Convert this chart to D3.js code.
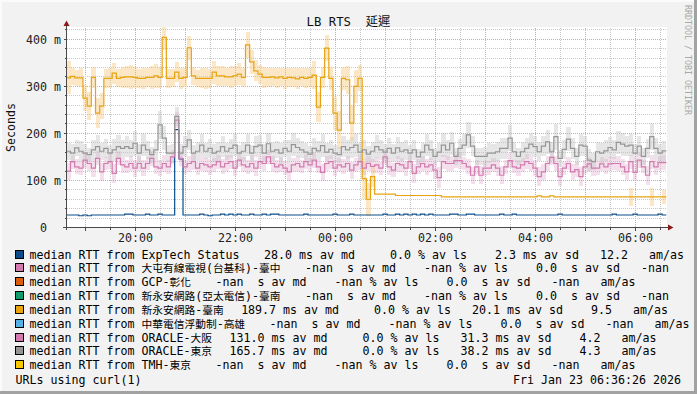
<!DOCTYPE html>
<html><head><meta charset="utf-8">
<script src="https://cdn.jsdelivr.net/npm/d3@7"></script>
<style>
html,body{margin:0;padding:0;background:#f2f2f2;overflow:hidden}
svg text{white-space:pre}
</style></head>
<body><svg id="chart" width="697" height="394" xmlns="http://www.w3.org/2000/svg"></svg>
<script>
// ---------------- data ----------------
const title = "LB RTS  延遲";
const yAxisTitle = "Seconds";
const credit = "RRDTOOL / TOBI OETIKER";
const footerLeft = "URLs using curl(1)";
const footerRight = "Fri Jan 23 06:36:26 2026";

const yTickValues = [0, 100, 200, 300, 400];          // ms
const yTickLabels = ["0  ", "100 m", "200 m", "300 m", "400 m"];
const xTickLabels = ["20:00", "22:00", "00:00", "02:00", "04:00", "06:00"];

const targets = ["ExpTech Status", "大屯有線電視(台基科)-臺中", "GCP-彰化", "新永安網路(亞太電信)-臺南",
  "新永安網路-臺南", "中華電信浮動制-高雄", "ORACLE-大阪", "ORACLE-東京", "TMH-東京"];
const colors = ["#0c4c8a", "#d27aae", "#d95f0e", "#119c6c", "#e8a30e", "#56b0e6", "#d27aae", "#959595", "#f7c800"];
const avMedian = [28.0, NaN, NaN, NaN, 189.7, NaN, 131.0, 165.7, NaN];
const avLoss   = [0.0, NaN, NaN, NaN, 0.0, NaN, 0.0, 0.0, NaN];
const avSdev   = [2.3, 0.0, 0.0, 0.0, 20.1, 0.0, 31.3, 38.2, 0.0];
const amAs     = [12.2, NaN, NaN, NaN, 9.5, NaN, 4.2, 4.3, NaN];

// 5-minute medians (ms), first step starts 18:37
const expTech = [
26.6,26.6,26.6,25.0,26.6,25.0,26.6,26.6,26.6,26.6,
26.6,26.6,26.6,26.6,28.5,28.5,26.6,26.6,26.6,28.5,
26.6,26.6,28.5,26.6,26.6,26.6,208,146,26.6,26.6,
26.6,26.6,28.5,26.6,25.0,26.6,26.6,28.5,26.6,28.5,
26.6,28.5,26.6,26.6,28.5,26.6,26.6,28.5,26.6,28.5,
28.5,26.6,26.6,26.6,26.6,26.6,26.6,28.5,26.6,26.6,
26.6,26.6,26.6,26.6,28.5,26.6,26.6,26.6,28.5,26.6,
26.6,26.6,26.6,26.6,26.6,26.6,28.5,26.6,26.6,28.5,
26.6,28.5,26.6,28.5,26.6,28.5,26.6,28.5,26.6,26.6,
26.6,26.6,28.5,28.5,26.6,26.6,28.5,28.5,26.6,26.6,
26.6,26.6,26.6,26.6,28.5,26.6,26.6,28.5,26.6,26.6,
26.6,26.6,26.6,26.6,26.6,26.6,26.6,26.6,28.5,26.6,
26.6,26.6,26.6,26.6,26.6,26.6,26.6,26.6,26.6,26.6,
26.6,28.5,26.6,26.6,26.6,26.6,28.5,26.6,26.6,26.6,
26.6,26.6,28.5,26.6];
const tainan = [
318,321,318,318,275,258,319,243,258,317,
317,328,317,319,320,320,319,317,317,319,
319,322,319,404,317,317,330,317,319,382,
322,317,317,317,317,330,322,322,320,320,
322,326,319,388,352,333,326,319,319,320,
318,320,317,319,318,316,319,317,319,324,
256,319,381,317,243,207,317,314,222,300,
317,104,60,108,71,71,71,71,71,68,
68,68,68,68,68,68,68,68,68,68,
65,65,65,65,65,65,65,65,65,65,
65,65,65,65,65,65,65,65,65,65,
65,65,65,67,65,65,67,65,65,65,
65,65,65,65,65,65,65,65,65,65,
65,65,65,65,65,65,65,65,65,65,
65,65,65,65];
const tainanSd = [
70,38,35,40,55,60,45,65,55,40,
42,45,38,44,48,50,46,40,44,42,
48,50,45,55,40,38,42,44,40,50,
38,36,42,44,40,48,42,44,40,46,
44,48,42,55,50,45,40,44,42,40,
44,38,46,42,40,44,38,42,40,60,
65,44,55,48,70,80,50,60,75,70,
55,85,70,45,0,0,0,0,0,0,
0,0,0,0,0,0,0,0,0,0,
0,0,0,0,0,0,0,0,0,0,
0,0,0,0,0,0,0,0,0,0,
0,0,0,0,0,0,0,0,0,0,
0,0,0,0,0,0,0,0,0,0,
0,0,0,0,0,39,0,0,0,0,
40,0,0,30];
const osaka = [
120,140,129,126,143,136,126,147,118,136,
140,115,147,133,129,136,126,136,126,136,
147,129,126,136,129,150,228,147,129,136,
140,126,136,133,129,133,140,129,136,140,
126,143,133,129,136,126,140,136,150,136,
129,133,126,118,133,136,129,140,133,143,
129,117,136,140,126,133,129,136,122,133,
140,126,136,130,133,126,150,129,122,136,
133,126,140,115,129,136,129,133,122,106,
140,136,136,142,142,136,129,111,129,111,
126,126,133,126,111,129,142,129,126,133,
140,136,126,108,118,136,149,136,108,126,
136,118,123,108,129,135,126,126,135,129,
135,136,136,129,118,140,117,143,129,111,
140,129,138,138];
const osakaSd = [
36,30,32,28,34,30,36,30,40,28,
32,42,30,34,28,32,36,30,34,28,
32,30,34,38,30,28,34,32,30,34,
36,28,32,30,34,28,30,32,36,30,
34,28,32,30,36,34,30,32,30,34,
28,32,30,38,30,34,28,32,30,34,
28,36,32,30,34,28,32,30,36,30,
34,28,32,30,34,28,32,36,30,34,
28,32,30,40,32,30,34,28,36,44,
30,32,32,30,34,28,32,36,30,38,
32,30,28,34,38,30,32,28,34,30,
32,30,34,40,36,30,34,32,38,30,
28,36,32,40,30,28,34,30,28,32,
30,28,30,34,36,30,38,32,28,40,
30,34,30,32];
const tokyo = [
162,158,169,162,158,155,165,172,162,168,
158,165,172,168,172,168,179,158,175,165,
155,165,218,190,158,158,236,158,172,186,
158,162,175,162,168,158,162,172,162,168,
175,158,162,175,158,172,175,158,178,162,
165,158,168,162,176,170,165,160,156,168,
163,174,160,166,158,155,172,165,170,175,
160,165,156,162,172,165,160,168,158,169,
162,165,158,165,150,160,175,165,151,160,
175,165,179,151,168,175,197,173,151,151,
151,158,158,161,168,168,190,161,151,161,
168,177,172,161,173,182,161,193,147,166,
188,168,151,175,173,143,140,161,158,163,
170,165,181,177,173,175,158,173,151,168,
193,168,158,163];
const tokyoSd = [
36,40,34,44,38,30,42,48,36,40,
34,46,50,38,44,36,52,40,46,38,
34,42,60,50,36,40,40,38,46,44,
36,40,48,34,42,38,40,46,36,42,
48,34,40,46,36,44,42,38,46,40,
36,44,38,50,48,42,36,40,34,46,
40,50,38,42,36,34,46,40,44,50,
38,42,36,40,48,42,36,44,38,46,
40,42,36,44,34,40,48,42,34,40,
50,44,48,36,42,46,56,44,36,38,
40,42,38,40,44,46,54,40,36,42,
44,48,46,40,44,50,40,56,36,42,
52,44,38,46,44,48,36,40,42,44,
46,40,50,48,44,46,40,44,38,42,
58,44,40,42];

// ---------------- chart ----------------
const W = 697, H = 394;
const svg = d3.select("#chart");
const MONO = "'DejaVu Sans Mono', 'Liberation Mono', monospace";
const CJK = "'Noto Sans CJK TC', 'Noto Sans CJK JP', sans-serif";
const FS = 11.63, CJK_FS = 10.74, CHAR_W = 7.0;
const cjkRe = /[\u2E80-\u9FFF\uF900-\uFAFF\u3000-\u303F\uFF00-\uFFEF]/;

function runs(str) {
  const out = []; let cur = "", curC = null;
  for (const ch of str) {
    const c = cjkRe.test(ch);
    if (curC === null || c === curC) { cur += ch; curC = c; }
    else { out.push([cur, curC]); cur = ch; curC = c; }
  }
  if (cur) out.push([cur, curC]);
  return out;
}
function mixedText(sel, str, fs, cfs) {
  runs(str).forEach(([s, c]) => {
    sel.append("tspan").attr("font-family", c ? CJK : MONO).attr("font-size", c ? cfs : fs).text(s);
  });
  return sel;
}

svg.append("rect").attr("width", W).attr("height", H).attr("fill", "#f2f2f2");

const t0 = new Date(2026, 0, 22, 18, 37, 12), t1 = new Date(2026, 0, 23, 6, 37, 12);
const dataStart = new Date(2026, 0, 22, 18, 37, 0);
const stepMinutes = 5;
const x = d3.scaleTime().domain([t0, t1]).range([66.5, 666.5]);
const y = d3.scaleLinear().domain([0, 425]).range([227.5, 27.5]);
const crisp = v => Math.round(v - 0.5) + 0.5;

// plot canvas
svg.append("rect").attr("x", 67).attr("y", 27).attr("width", 600).attr("height", 201).attr("fill", "#ffffff");

// grid
const grid = svg.append("g").attr("shape-rendering", "crispEdges").attr("stroke-width", 1).attr("stroke-dasharray", "1,1");
const halfHours = d3.timeMinute.every(30).range(t0, t1);
grid.selectAll("line.v").data(halfHours).join("line")
  .attr("x1", d => crisp(x(d))).attr("x2", d => crisp(x(d)))
  .attr("y1", 27.5).attr("y2", 227.5)
  .attr("stroke", d => d.getMinutes() === 0 ? "#ee9a9a" : "#c8c8c8");
grid.selectAll("line.h").data(d3.range(20, 425, 20)).join("line")
  .attr("x1", 67).attr("x2", 666.5)
  .attr("y1", d => crisp(y(d))).attr("y2", d => crisp(y(d)))
  .attr("stroke", d => d % 100 === 0 ? "#ee9a9a" : "#c8c8c8");

// data
svg.append("defs").append("clipPath").attr("id", "pc")
  .append("rect").attr("x", 67).attr("y", 27).attr("width", 600).attr("height", 201);
const dataG = svg.append("g").attr("clip-path", "url(#pc)");
const times = d3.range(tainan.length + 1).map(i => d3.timeMinute.offset(dataStart, i * stepMinutes));

function band(values, sd, fill, op) {
  const g = dataG.append("g").attr("opacity", op);
  g.selectAll("rect").data(values.map((v, i) => ({ i, v, s: sd[i] })).filter(d => d.s > 0)).join("rect")
    .attr("shape-rendering", "crispEdges")
    .attr("x", d => x(times[d.i])).attr("width", d => x(times[d.i + 1]) - x(times[d.i]))
    .attr("y", d => y(d.v + d.s / 2)).attr("height", d => y(d.v - d.s / 2) - y(d.v + d.s / 2))
    .attr("fill", fill);
}
band(osaka, osakaSd, "#dca2c6", 0.32);
band(tokyo, tokyoSd, "#c4c4c4", 0.42);
band(tainan, tainanSd, "#f6c878", 0.42);

const line = d3.line().x(d => x(d.t)).y(d => y(d.v)).curve(d3.curveStepAfter);
function series(values, color) {
  const pts = values.map((v, i) => ({ t: times[i], v }));
  pts.push({ t: times[values.length], v: values[values.length - 1] });
  dataG.append("path").datum(pts).attr("d", line).attr("fill", "none")
    .attr("stroke", color).attr("stroke-width", 1.2).attr("stroke-linejoin", "miter");
}
series(expTech, colors[0]);
series(tainan, colors[4]);
series(osaka, colors[6]);
series(tokyo, colors[7]);

// axes
const axisG = svg.append("g").attr("shape-rendering", "crispEdges");
axisG.append("line").attr("x1", 66.5).attr("x2", 66.5).attr("y1", 230).attr("y2", 25).attr("stroke", "#4a4a4a");
axisG.append("line").attr("x1", 63).attr("x2", 669).attr("y1", 227.5).attr("y2", 227.5).attr("stroke", "#4a4a4a");
axisG.selectAll("line.yt").data(d3.range(20, 425, 20)).join("line")
  .attr("x1", d => d % 100 === 0 ? 63.5 : 64.5).attr("x2", 66.5)
  .attr("y1", d => crisp(y(d))).attr("y2", d => crisp(y(d))).attr("stroke", "#4a4a4a");
axisG.selectAll("line.xt").data(halfHours).join("line")
  .attr("x1", d => crisp(x(d))).attr("x2", d => crisp(x(d)))
  .attr("y1", 227.5).attr("y2", d => d.getMinutes() === 0 ? 231 : 230).attr("stroke", "#4a4a4a");
svg.append("path").attr("d", "M63.5,26L69.5,26L66.5,20.5Z").attr("fill", "#8b1a1a");
svg.append("path").attr("d", "M668,224.5L668,230.5L673.5,227.5Z").attr("fill", "#8b1a1a");

// tick labels
svg.append("g").selectAll("text").data(yTickValues).join("text")
  .attr("x", 61).attr("y", d => crisp(y(d)) + 4)
  .attr("text-anchor", "end").attr("font-family", MONO).attr("font-size", FS).attr("fill", "#222")
  .text((d, i) => yTickLabels[i]);
const labelTimes = d3.timeHour.every(2).range(t0, t1);
svg.append("g").selectAll("text").data(labelTimes).join("text")
  .attr("x", d => x(d)).attr("y", 241.5)
  .attr("text-anchor", "middle").attr("font-family", MONO).attr("font-size", FS).attr("fill", "#222")
  .text((d, i) => xTickLabels[i]);

// title, y title, credit
const tt = svg.append("text").attr("x", 348.5).attr("y", 26).attr("text-anchor", "middle").attr("fill", "#111");
mixedText(tt, title, 12.3, 12.3);
svg.append("text").attr("transform", "translate(15,127.5) rotate(-90)").attr("text-anchor", "middle")
  .attr("font-family", MONO).attr("font-size", FS).attr("fill", "#111").text(yAxisTitle);
svg.append("text").attr("transform", "translate(685,5) rotate(90)")
  .attr("font-family", MONO).attr("font-size", 8.3).attr("fill", "#a8a8a8").text(credit);

// legend
const f5 = v => isNaN(v) ? " -nan" : v.toFixed(1).padStart(5);
const pfx = v => (isNaN(v) || v === 0) ? " " : "m";
targets.forEach((name, k) => {
  const b = Math.round(258.6 + k * 13.84);
  svg.append("rect").attr("x", 15.5).attr("y", b - 8.5).attr("width", 8).attr("height", 8)
    .attr("fill", colors[k]).attr("stroke", "#000").attr("stroke-width", 1).attr("shape-rendering", "crispEdges");
  const t = svg.append("text").attr("x", 29.5).attr("y", b).attr("fill", "#000");
  mixedText(t, "median RTT from " + name, FS, CJK_FS);
  const w = t.node().getComputedTextLength();
  let stats = `${f5(avMedian[k])} ${pfx(avMedian[k])}s av md   ${f5(avLoss[k])} % av ls  ${f5(avSdev[k])} ${pfx(avSdev[k])}s av sd  ${f5(amAs[k])}   am/as`;
  // the image is clipped at its right frame: whatever would fall past it is not shown
  const startX = 29.5 + w + 17.5;
  const maxChars = Math.floor((W - 4 - startX) / CHAR_W);
  if (stats.length > maxChars) stats = stats.slice(0, maxChars).replace(/\s+$/, "");
  t.append("tspan").attr("dx", 17.5).attr("font-family", MONO).attr("font-size", FS).text(stats);
});
svg.append("text").attr("x", 15.5).attr("y", 384).attr("font-family", MONO).attr("font-size", FS).attr("fill", "#000").text(footerLeft);
svg.append("text").attr("x", 681).attr("y", 384).attr("text-anchor", "end").attr("font-family", MONO).attr("font-size", FS).attr("fill", "#000").text(footerRight);

// frame
svg.append("rect").attr("x", 0).attr("y", 0).attr("width", W).attr("height", 2).attr("fill", "#fbfbfb");
svg.append("rect").attr("x", 0).attr("y", 0).attr("width", 2).attr("height", H).attr("fill", "#fbfbfb");
svg.append("rect").attr("x", W - 3).attr("y", 0).attr("width", 3).attr("height", H).attr("fill", "#a2a2a2");
svg.append("rect").attr("x", 0).attr("y", H - 3).attr("width", W).attr("height", 3).attr("fill", "#a2a2a2");
</script></body></html>
